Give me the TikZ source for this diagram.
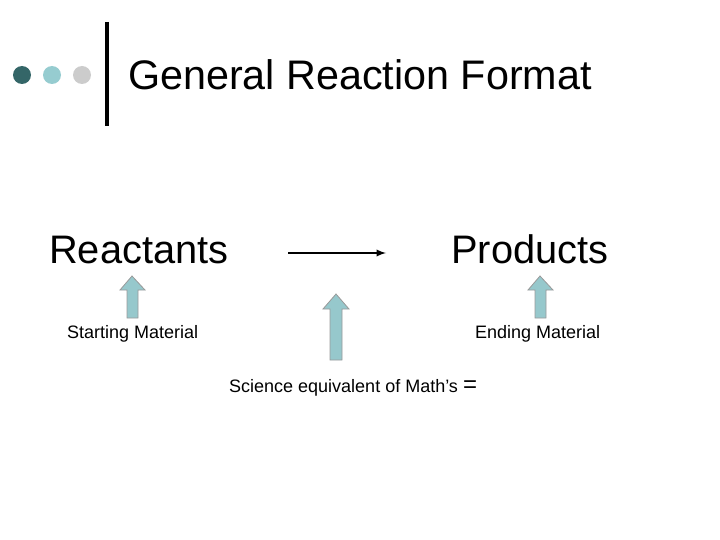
\documentclass[tikz,border=0pt]{standalone}
\usepackage{fontspec}
\setmainfont{Liberation Sans}
\begin{document}
\begin{tikzpicture}[x=1pt,y=-1pt,
  blk/.style={draw=gray!80,line width=0.8pt,fill=arrowfill},
  lbl/.style={inner sep=0,anchor=base west}]
\definecolor{arrowfill}{RGB}{150,200,204}
\definecolor{d1}{RGB}{52,102,104}
\definecolor{d2}{RGB}{150,204,208}
\definecolor{d3}{RGB}{204,204,204}
\useasboundingbox (0,0) rectangle (720,540);
\fill[d1] (22,75) circle (9);
\fill[d2] (52,75) circle (9);
\fill[d3] (82,75) circle (9);
\draw[line width=4pt] (107,22) -- (107,126);
\node[lbl,font=\fontsize{41.3}{42}\selectfont] (title) at (128,90) {General Reaction Format};
\node[lbl,font=\fontsize{39.8}{40}\selectfont] (react) at (49,263) {Reactants};
\node[lbl,font=\fontsize{39.8}{40}\selectfont] (prod) at (451,263) {Products};
\coordinate (a1) at (288,253);
\coordinate (a2) at (386,253);
\draw[line width=2.2pt,-latex] (a1) -- (a2);
\node[lbl,font=\fontsize{18}{19}\selectfont] (start) at (67,338) {Starting Material};
\node[lbl,font=\fontsize{18}{19}\selectfont] (end) at (475,338) {Ending Material};
\node[lbl,font=\fontsize{18}{19}\selectfont] (sci) at (229,392) {Science equivalent of Math’s {\fontsize{24}{24}\selectfont =}};
\draw[blk] (132,276) -- (145,290) -- (138,290) -- (138,318) -- (127,318) -- (127,290) -- (120,290) -- cycle;
\draw[blk] (336,294) -- (349,309) -- (342,309) -- (342,360) -- (330,360) -- (330,309) -- (323,309) -- cycle;
\draw[blk] (540,276) -- (553,290) -- (546,290) -- (546,318) -- (535,318) -- (535,290) -- (528,290) -- cycle;
\end{tikzpicture}
\end{document}
